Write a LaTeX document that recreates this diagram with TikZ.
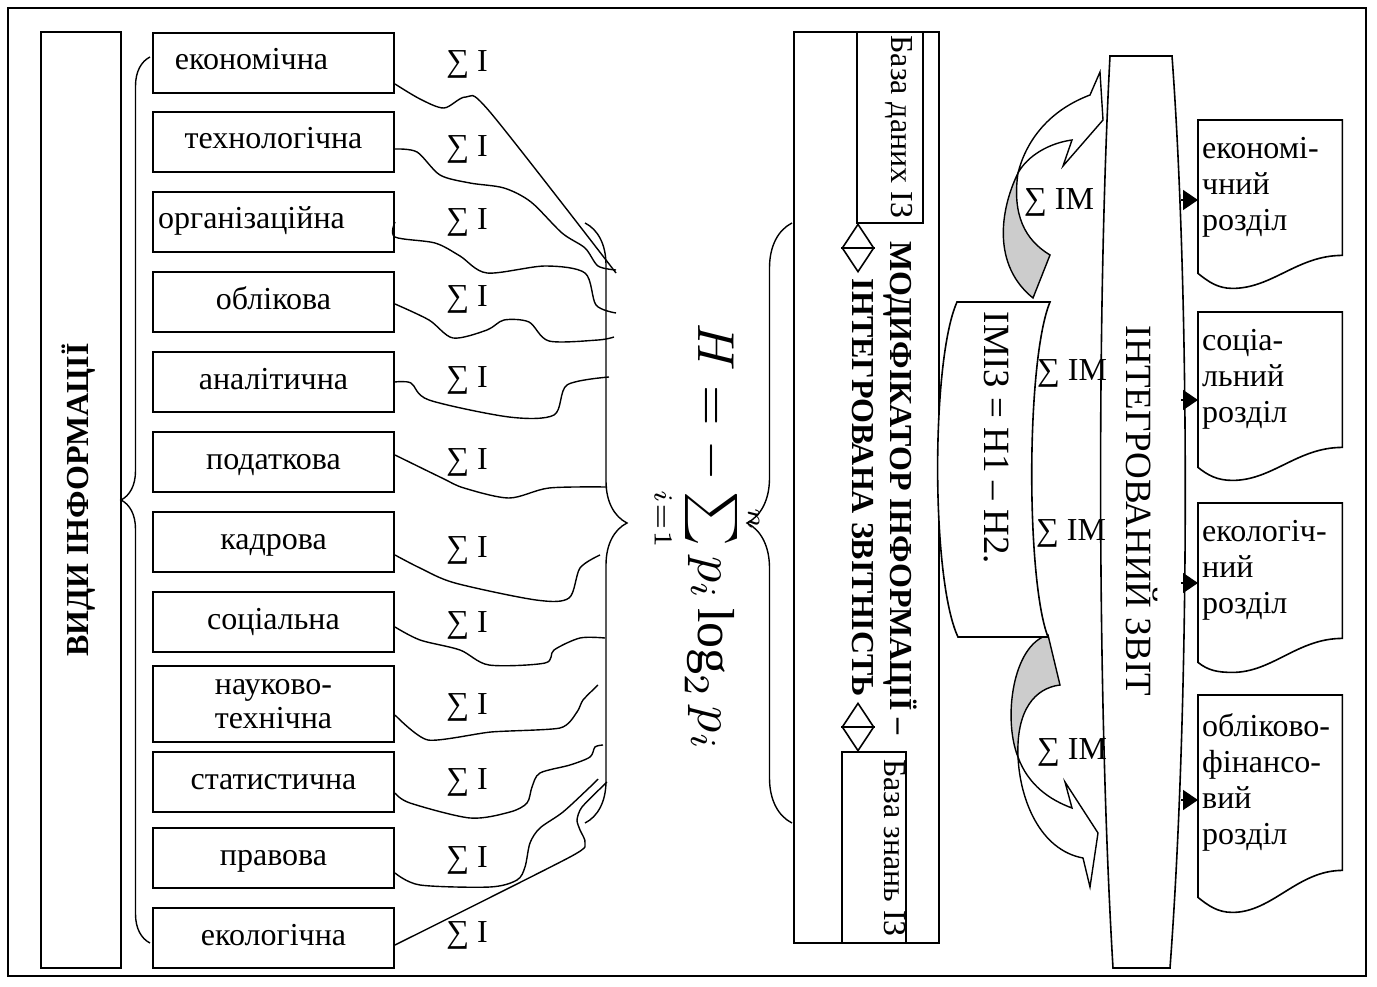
\documentclass[tikz,border=0pt]{standalone}
\usepackage{fontspec}
\setmainfont{Liberation Serif}
\usetikzlibrary{shapes.geometric}
\usetikzlibrary{arrows.meta}
\usetikzlibrary{decorations.pathreplacing}
\tikzset{
	frm/.style = {draw, line width=2pt, inner sep=0pt},
	oneline/.style = {inner sep=0pt, text height=22pt, text depth=8pt},
	catbox/.style = {frm, oneline, minimum width=241pt, minimum height=60pt},% вид інформації
	vtext/.style = {oneline, rotate=-90},
	boldtxt/.style = {font=\fontsize{32}{38}\selectfont\bfseries},
	bigtxt/.style = {font=\fontsize{37}{40}\selectfont},
	wavy/.style = {line width=1.4pt},
	brc/.style = {decorate, line width=1.4pt, decoration={brace, amplitude=#1}},
	romb/.style = {diamond, draw, line width=1.6pt, minimum width=32pt,
		minimum height=48pt, inner sep=0pt},
	docnode/.style = {anchor=north west, align=left, text width=136pt,
		inner xsep=4pt, inner ysep=0pt},% розділ звіту
	toarr/.style = {-{Triangle[length=15pt,width=20pt]}, line width=1.5pt}
}
\begin{document}
\begin{tikzpicture}[x=1pt, y=-1pt, font=\fontsize{32}{36}\selectfont]
	\fill[white] (0,0) rectangle (1377,987);
	\useasboundingbox (0,0) rectangle (1377,987);
	\draw[line width=2pt] (8,8) rectangle (1366,976);

	% види інформації
	\node[frm, boldtxt, rotate=90, minimum width=936pt, minimum height=80pt,
		text height=22pt, text depth=8pt] (vid) at (81,500) {ВИДИ ІНФОРМАЦІЇ};
	\draw[brc=29pt] (150,943) -- (150,57);

	\node[catbox] (b1) at (273.5,63) {економічна\hspace*{44pt}};
	\node[catbox] (b2) at (273.5,142) {технологічна};
	\node[catbox] (b3) at (273.5,222) {організаційна\hspace*{44pt}};
	\node[catbox] (b4) at (273.5,302) {облікова};
	\node[catbox] (b5) at (273.5,382) {аналітична};
	\node[catbox] (b6) at (273.5,462) {податкова};
	\node[catbox] (b7) at (273.5,542) {кадрова};
	\node[catbox] (b8) at (273.5,622) {соціальна};
	\node[frm, minimum width=241pt, minimum height=76pt, align=center,
		font=\fontsize{32}{34}\selectfont] (b9) at (273.5,704) {науково-\\технічна};
	\node[catbox] (b10) at (273.5,782) {статистична};
	\node[catbox] (b11) at (273.5,858) {правова};
	\node[catbox] (b12) at (273.5,938) {екологічна};

	\foreach \y [count=\i] in {65,150,223,300,380,462,550,625,707,782,860,935}
		\node[oneline] (s\i) at (467,\y) {∑ I};

	% кінці хвилястих ліній біля дужки
	\coordinate (e1) at (616,273);
	\coordinate (e2) at (616,270);
	\coordinate (e3) at (616,313);
	\coordinate (e4) at (614,337);
	\coordinate (e5) at (609,377);
	\coordinate (e6) at (607,487);
	\coordinate (e7) at (600,555);
	\coordinate (e8) at (605,638);
	\coordinate (e9) at (598,685);
	\coordinate (e10) at (603,745);
	\coordinate (e11) at (598,779);
	\coordinate (e12) at (607,782);

	\draw[wavy] plot[smooth, tension=.5] coordinates {([yshift=-21pt]b1.east)
		(420,99) (444,108) (466,97) (490,112) (e1)};
	\draw[wavy] plot[smooth, tension=.5] coordinates {([yshift=-7pt]b2.east)
		(417,152) (440,175) (470,183) (504,188) (531,202) (562,233) (585,248) (598,266) (e2)};
	\draw[wavy] plot[smooth, tension=.5] coordinates {(b3.east)
		(395,237) (435,243) (460,256) (487,273) (545,266) (585,273) (596,305) (e3)};
	\draw[wavy] plot[smooth, tension=.5] coordinates {([yshift=-2pt]b4.east)
		(429,320) (453,338) (487,330) (504,320) (529,322) (549,341) (598,340) (e4)};
	\draw[wavy] plot[smooth, tension=.5] coordinates {(b5.east)
		(411,383) (429,400) (509,417) (554,415) (567,385) (e5)};
	\draw[wavy] plot[smooth, tension=.5] coordinates {([yshift=7pt]b6.east)
		(442,478) (464,488) (509,498) (549,488) (e6)};
	\draw[wavy] plot[smooth, tension=.5] coordinates {([yshift=-13pt]b7.east)
		(420,568) (455,583) (536,600) (569,598) (580,568) (e7)};
	\draw[wavy] plot[smooth, tension=.5] coordinates {([yshift=-5pt]b8.east)
		(420,640) (460,650) (489,665) (545,663) (554,650) (580,638) (e8)};
	\draw[wavy] plot[smooth, tension=.4] coordinates {([yshift=-11pt]b9.east)
		(428,740) (491,732) (560,728) (577,712) (583,700) (e9)};
	\draw[wavy] plot[smooth, tension=.5] coordinates {([yshift=-11pt]b10.east)
		(410,803) (470,818) (510,812) (527,803) (532,787) (540,773) (570,765) (590,757) (595,747) (e10)};
	\draw[wavy] plot[smooth, tension=.5] coordinates {([yshift=-15pt]b11.east)
		(420,885) (490,887) (517,880) (525,867) (530,843) (540,828) (563,812) (590,787) (e11)};
	\draw[wavy] plot[smooth, tension=.4] coordinates {([yshift=-7pt]b12.east)
		(570,857) (585,843) (580,830) (577,820) (582,807) (e12)};

	\draw[brc=42pt] (585,223) -- (585,823);

	% ентропія
	\node[rotate=-90, inner sep=0pt] (entr) at (707,537)
		{\scalebox{5.2}{\fontsize{10}{12}\selectfont$H=-\sum\limits_{\scriptscriptstyle i=1}^{\scriptscriptstyle n} p_i\log_2 p_i$}};
	\draw[brc=45pt] (792,823) -- (792,223);

	% модифікатор
	\node[frm, minimum width=145pt, minimum height=911pt] (mod) at (866.5,487.5) {};
	\node[frm, minimum width=66pt, minimum height=191pt] (bd) at (890,127.5) {};
	\node[vtext] (bdtxt) at (898,127) {База даних ІЗ};
	\node[frm, minimum width=64pt, minimum height=191pt] (bz) at (874,847.5) {};
	\node[vtext] (bztxt) at (891,848) {База знань ІЗ};
	\node[romb] (r1) at (858,248) {};
	\draw[line width=1.6pt] (r1.west) -- (r1.east);
	\node[romb] (r2) at (858,727) {};
	\draw[line width=1.6pt] (r2.west) -- (r2.east);
	\node[boldtxt, rotate=-90, align=center, inner sep=0pt] (modtxt) at (885,488)
		{МОДИФІКАТОР ІНФОРМАЦІЇ –\\ІНТЕГРОВАНА ЗВІТНІСТЬ};

	% вигнуті стрілки
	\draw[line width=1.4pt, fill=black!20] (1018,173) .. controls (1000,210) and (992,265) .. (1033,298)
		-- (1050,255) .. controls (1025,240) and (1012,215) .. (1018,173) -- cycle;
	\draw[line width=1.4pt, fill=white] (1018,173) .. controls (1025,145) and (1045,112) .. (1090,95)
		-- (1100,72) -- (1103,120) -- (1063,166) -- (1072,140)
		.. controls (1050,143) and (1028,155) .. (1018,173) -- cycle;
	\draw[line width=1.4pt, fill=black!20] (1048,635) -- (1060,685)
		.. controls (1035,688) and (1016,710) .. (1018,757)
		.. controls (1003,720) and (1012,645) .. (1048,635) -- cycle;
	\draw[line width=1.4pt, fill=white] (1018,757) .. controls (1020,800) and (1040,850) .. (1083,858)
		-- (1090,887) -- (1098,833) -- (1065,782) -- (1072,808)
		.. controls (1050,800) and (1028,785) .. (1018,757) -- cycle;

	% ІМІЗ
	\draw[line width=1.6pt, fill=white] (957,302) -- (1050,302)
		.. controls (1026,360) and (1026,580) .. (1048,637) -- (958,637)
		.. controls (931,580) and (931,360) .. (957,302) -- cycle;
	\node[vtext, bigtxt] (imiz) at (991,438) {ІМІЗ = Н1 – Н2.};

	% інтегрований звіт
	\draw[line width=1.6pt] (1110,56) -- (1172,56)
		.. controls (1190,300) and (1190,700) .. (1170,968) -- (1113,968)
		.. controls (1097,700) and (1097,300) .. (1110,56) -- cycle;
	\node[vtext, bigtxt] (rep) at (1133,511) {ІНТЕГРОВАНИЙ ЗВІТ};

	\node[oneline] (m1) at (1059,203) {∑ ІМ};
	\node[oneline] (m2) at (1072,373) {∑ ІМ};
	\node[oneline] (m3) at (1071,533) {∑ ІМ};
	\node[oneline] (m4) at (1072,752) {∑ ІМ};

	% розділи
	\node[docnode, minimum height=135pt] (d1) at (1198,120) {економі-\\чний\\розділ};
	\node[docnode, minimum height=135pt] (d2) at (1198,312) {соціа-\\льний\\розділ};
	\node[docnode, minimum height=135pt] (d3) at (1198,503) {екологіч-\\ний\\розділ};
	\node[docnode, minimum height=175pt] (d4) at (1198,695) {обліково-\\фінансо-\\вий\\розділ};
	\foreach \d/\dip/\lft in {d1/33/18, d2/33/20, d3/34/24, d4/42/27}
		\draw[line width=1.6pt] (\d.north west) -- (\d.north east) -- (\d.south east)
			.. controls +(-45,0) and +(40,0) .. ++(-110,\dip)
			.. controls +(-15,0) and +(10,8) .. ([yshift=-\lft pt]\d.south west) -- cycle;
	\foreach \d/\y in {d1/200, d2/400, d3/583, d4/800} {
		\coordinate (p\d) at (1181,\y);
		\draw[toarr] (p\d) -- (p\d -| \d.west);
	}
\end{tikzpicture}
\end{document}
